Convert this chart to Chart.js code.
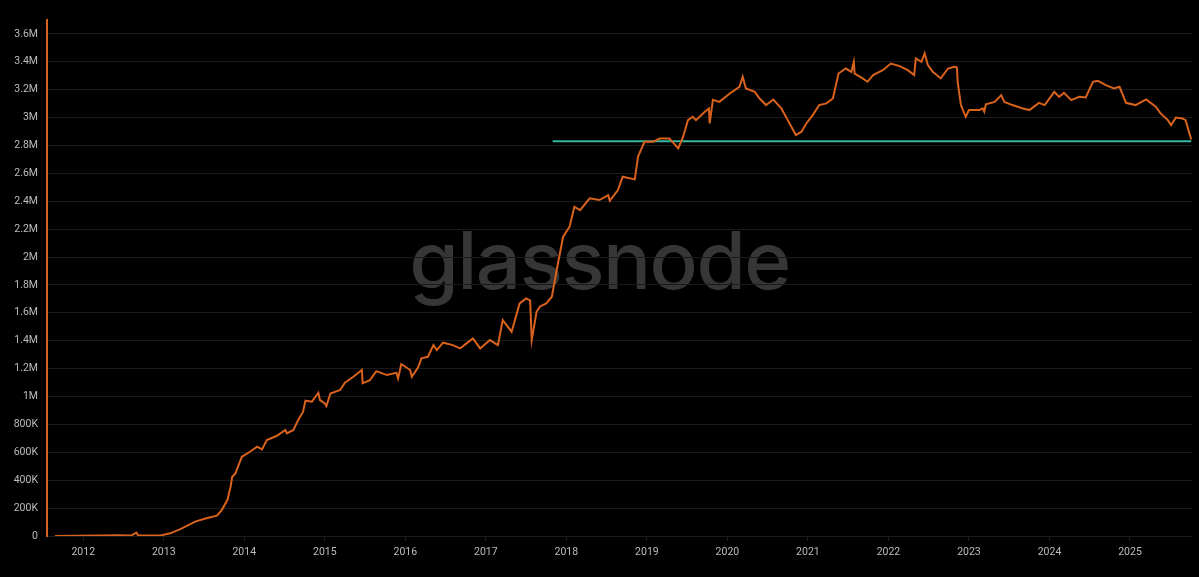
<!DOCTYPE html>
<html>
<head>
<meta charset="utf-8">
<script src="https://cdn.jsdelivr.net/npm/chart.js@4/dist/chart.umd.min.js"></script>
<style>
html,body{margin:0;padding:0;background:#000;}
#wrap{position:relative;width:1199px;height:577px;background:#000;overflow:hidden;}
#wm{position:absolute;left:0;top:220px;width:1199px;text-align:center;font:500 80px Inter,sans-serif;line-height:1;color:#363636;letter-spacing:-1.5px;z-index:0;}
#chart{position:absolute;left:0;top:0;z-index:1;}
</style>
</head>
<body>
<div id="wrap">
  <div id="wm">glassnode</div>
  <canvas id="chart" width="1199" height="577"></canvas>
</div>
<script>
// decimal year -> holdings (thousands)
const dates=[
2011.65,2011.90,2012.20,2012.43,2012.60,2012.66,2012.68,2012.96,
2013.08,2013.20,2013.39,2013.53,2013.66,2013.72,2013.79,2013.83,2013.85,2013.89,2013.93,2013.97,
2014.07,2014.16,2014.22,2014.28,2014.40,2014.51,2014.53,2014.61,2014.67,2014.73,2014.76,2014.84,2014.92,2014.94,
2015.00,2015.02,2015.07,2015.19,2015.25,2015.35,2015.46,2015.47,2015.56,2015.64,2015.77,2015.89,2015.91,2015.95,
2016.06,2016.08,2016.16,2016.20,2016.28,2016.35,2016.39,2016.47,2016.59,2016.68,2016.76,2016.84,2016.93,
2017.05,2017.15,2017.21,2017.32,2017.42,2017.50,2017.55,2017.57,2017.63,2017.67,2017.75,2017.82,2017.88,2017.96,
2018.04,2018.10,2018.17,2018.29,2018.41,2018.52,2018.54,2018.64,2018.70,2018.85,2018.89,2018.97,
2019.08,2019.16,2019.28,2019.39,2019.45,2019.51,2019.57,2019.61,2019.72,2019.77,2019.78,2019.82,2019.90,
2020.03,2020.15,2020.19,2020.23,2020.34,2020.40,2020.48,2020.57,2020.67,2020.75,2020.85,2020.92,2020.98,
2021.06,2021.14,2021.23,2021.31,2021.38,2021.47,2021.54,2021.57,2021.58,2021.68,2021.74,2021.81,2021.93,
2022.03,2022.14,2022.24,2022.32,2022.34,2022.41,2022.45,2022.49,2022.55,2022.65,2022.74,2022.82,2022.85,2022.86,2022.90,2022.96,
2023.00,2023.13,2023.17,2023.19,2023.21,2023.32,2023.40,2023.44,2023.54,2023.67,2023.75,2023.87,2023.94,
2024.06,2024.12,2024.18,2024.27,2024.37,2024.45,2024.54,2024.60,2024.70,2024.80,2024.87,2024.95,
2025.07,2025.20,2025.32,2025.38,2025.47,2025.51,2025.57,2025.65,2025.69,2025.76
];
const holdings=[
0,1,3,6,4,25,5,4,
19,48,103,127,146,186,258,353,425,449,509,568,
604,640,621,688,717,760,736,760,832,891,970,963,1027,975,
951,932,1022,1047,1100,1140,1190,1095,1118,1182,1154,1170,1130,1233,
1190,1142,1209,1274,1285,1369,1333,1386,1369,1345,1381,1417,1345,
1405,1369,1548,1465,1668,1704,1690,1405,1608,1644,1668,1716,1907,2146,
2218,2361,2337,2421,2409,2444,2404,2480,2576,2557,2720,2827,
2827,2851,2851,2780,2863,2982,3006,2982,3042,3066,2958,3128,3113,
3173,3221,3293,3209,3185,3137,3090,3130,3066,2982,2875,2899,2958,
3018,3090,3102,3137,3316,3352,3328,3400,3316,3281,3257,3305,3340,
3388,3369,3340,3305,3424,3400,3460,3376,3328,3281,3352,3364,3360,3257,3090,3006,
3054,3054,3066,3042,3096,3113,3161,3113,3090,3066,3054,3106,3090,
3185,3149,3178,3125,3149,3145,3257,3264,3233,3209,3221,3106,
3090,3130,3078,3030,2982,2946,3001,2994,2982,2844
];
// horizontal reference level
const refDates=[2017.83,2025.76];
const refValues=[2830,2830];

const yearTicks=[2012,2013,2014,2015,2016,2017,2018,2019,2020,2021,2022,2023,2024,2025];
const yTicks=[0,200,400,600,800,1000,1200,1400,1600,1800,2000,2200,2400,2600,2800,3000,3200,3400,3600];
const yTickLabels=['0','200K','400K','600K','800K','1M','1.2M','1.4M','1.6M','1.8M','2M','2.2M','2.4M','2.6M','2.8M','3M','3.2M','3.4M','3.6M'];

const ORANGE='#d9621c', TEAL='#38b8a0', LABEL='#bdbdbd';
const tickFont={family:'Roboto',size:10.5};

new Chart(document.getElementById('chart').getContext('2d'),{
  type:'line',
  data:{datasets:[
    {data:dates.map((d,i)=>({x:d,y:holdings[i]})),borderColor:ORANGE,borderWidth:2,pointRadius:0,tension:0,fill:false},
    {data:refDates.map((d,i)=>({x:d,y:refValues[i]})),borderColor:TEAL,borderWidth:2,pointRadius:0,tension:0,fill:false}
  ]},
  options:{
    responsive:false,
    animation:false,
    layout:{padding:{top:20,right:7,left:0,bottom:0}},
    plugins:{legend:{display:false},tooltip:{enabled:false}},
    scales:{
      x:{
        type:'linear',min:2011.55,max:2025.77,
        afterBuildTicks:s=>{s.ticks=yearTicks.map(v=>({value:v}));},
        afterFit:s=>{s.height=41;},
        ticks:{color:LABEL,font:tickFont,padding:5,maxRotation:0,autoSkip:false,callback:v=>String(v)},
        grid:{drawOnChartArea:false,color:'#222',tickLength:5},
        border:{display:false}
      },
      y:{
        min:0,max:3700,
        afterBuildTicks:s=>{s.ticks=yTicks.map(v=>({value:v}));},
        afterFit:s=>{s.width=47;},
        ticks:{color:LABEL,font:tickFont,padding:9,callback:(v,i)=>yTickLabels[i]},
        grid:{color:'#1a1a1a',drawTicks:false},
        border:{display:true,color:ORANGE,width:2}
      }
    }
  }
});
</script>
</body>
</html>
